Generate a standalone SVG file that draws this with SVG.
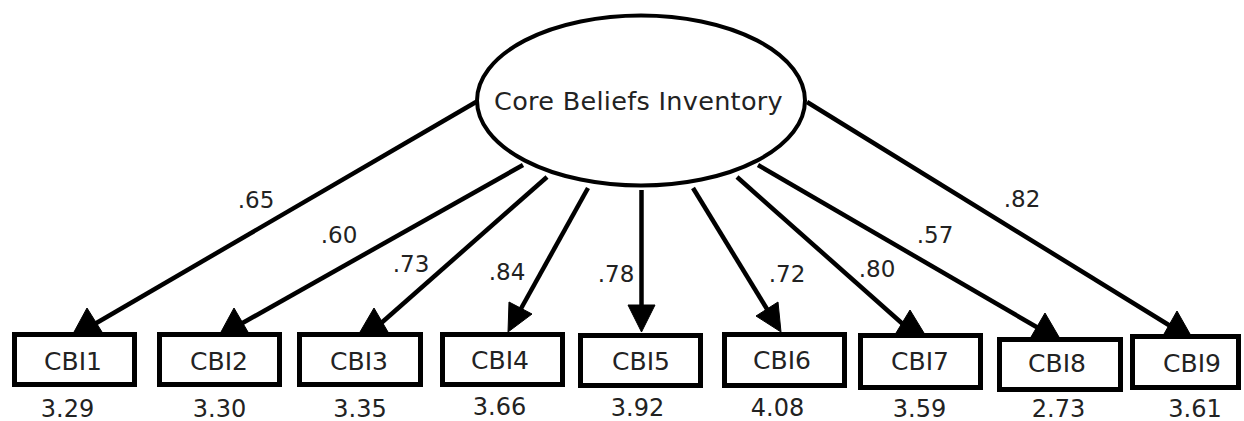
<svg xmlns="http://www.w3.org/2000/svg" width="1244" height="421" viewBox="0 0 1244 421">
<style>
text{font-family:"DejaVu Sans","Liberation Sans",sans-serif;fill:#222;text-anchor:middle}
.box{fill:#fff;stroke:#000;stroke-width:5}
.lat{fill:#fff;stroke:#000;stroke-width:4}
.ln{stroke:#000;stroke-width:4.5;fill:none}
.ah{fill:#000;stroke:#000;stroke-width:1}
.lbl{font-size:25px}
.core{font-size:25.5px;letter-spacing:0.3px}
.val{font-size:24px}
.w{font-size:23px}
</style>
<rect width="1244" height="421" fill="#fff"/>
<g id="connectors">
<line class="ln" x1="476" y1="102" x2="93" y2="325"/>
<polygon class="ah" points="87,308 74,332 102,332"/>
<line class="ln" x1="523" y1="165" x2="239" y2="325"/>
<polygon class="ah" points="234,308 221,332 248,332"/>
<line class="ln" x1="547" y1="177" x2="379" y2="325"/>
<polygon class="ah" points="374,308 360,332 388,332"/>
<line class="ln" x1="588" y1="188" x2="518" y2="314"/>
<polygon class="ah" points="508,332 532,314 509,302"/>
<line class="ln" x1="641.5" y1="190" x2="641.5" y2="310"/>
<polygon class="ah" points="641.5,332 628,305 655,305"/>
<line class="ln" x1="693" y1="188" x2="770" y2="314"/>
<polygon class="ah" points="781,332 778,302 756,316"/>
<line class="ln" x1="737" y1="177" x2="905" y2="326"/>
<polygon class="ah" points="910,310 896,333 924,333"/>
<line class="ln" x1="758" y1="165" x2="1040" y2="329"/>
<polygon class="ah" points="1045,313 1031,337 1059,337"/>
<line class="ln" x1="807" y1="102" x2="1172" y2="327"/>
<polygon class="ah" points="1177,311 1164,334 1190,334"/>
</g>
<g id="labels">
<text class="w" x="256" y="208">.65</text>
<text class="w" x="339" y="243">.60</text>
<text class="w" x="411" y="272">.73</text>
<text class="w" x="507" y="280">.84</text>
<text class="w" x="616" y="282">.78</text>
<text class="w" x="787" y="282">.72</text>
<text class="w" x="877" y="277">.80</text>
<text class="w" x="935" y="243">.57</text>
<text class="w" x="1022" y="207">.82</text>
</g>
<g id="core">
<ellipse class="lat" cx="641" cy="100.5" rx="164" ry="85"/>
<text class="core" x="638.5" y="110">Core Beliefs Inventory</text>
</g>
<g id="cbi1"><rect class="box" x="14.5" y="334.5" width="120" height="50"/><text class="lbl" x="73" y="370">CBI1</text><text class="val" x="67.5" y="417">3.29</text></g>
<g id="cbi2"><rect class="box" x="159.5" y="334.5" width="120" height="50"/><text class="lbl" x="219" y="370">CBI2</text><text class="val" x="219.5" y="417">3.30</text></g>
<g id="cbi3"><rect class="box" x="299.5" y="334.5" width="121" height="50"/><text class="lbl" x="359" y="370">CBI3</text><text class="val" x="360" y="417">3.35</text></g>
<g id="cbi4"><rect class="box" x="442.5" y="334.5" width="120" height="50"/><text class="lbl" x="500" y="369">CBI4</text><text class="val" x="499.5" y="415">3.66</text></g>
<g id="cbi5"><rect class="box" x="580.5" y="335.5" width="120" height="50"/><text class="lbl" x="641" y="370">CBI5</text><text class="val" x="637.5" y="416">3.92</text></g>
<g id="cbi6"><rect class="box" x="724.5" y="334.5" width="120" height="51"/><text class="lbl" x="782" y="369">CBI6</text><text class="val" x="777.5" y="416">4.08</text></g>
<g id="cbi7"><rect class="box" x="860.5" y="335.5" width="120" height="52"/><text class="lbl" x="920" y="370">CBI7</text><text class="val" x="919.5" y="417">3.59</text></g>
<g id="cbi8"><rect class="box" x="999.5" y="339.5" width="121" height="50"/><text class="lbl" x="1057" y="372">CBI8</text><text class="val" x="1058.5" y="417">2.73</text></g>
<g id="cbi9"><rect class="box" x="1132.5" y="336.5" width="106" height="51"/><text class="lbl" x="1192" y="372">CBI9</text><text class="val" x="1195" y="417">3.61</text></g>
</svg>
